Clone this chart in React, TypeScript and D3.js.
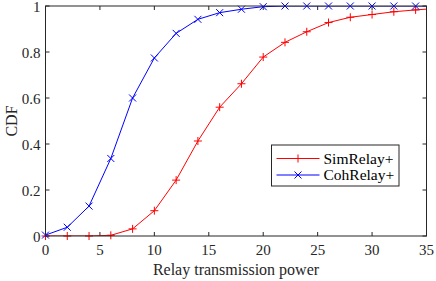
import React from "react";
import * as d3 from "d3";

const powers = [0, 2, 4, 6, 8, 10, 12, 14, 16, 18, 20, 22, 24, 26, 28, 30, 32, 34, 36];
const simRelay = [0, 0, 0, 0.003, 0.031, 0.11, 0.243, 0.413, 0.56, 0.662, 0.778, 0.842, 0.888, 0.928, 0.951, 0.963, 0.975, 0.983, 0.99];
const cohRelay = [0.004, 0.038, 0.13, 0.337, 0.6, 0.774, 0.881, 0.942, 0.971, 0.986, 0.997, 1, 1, 1, 1, 1, 1, 1, 1];
const xTicks = [0, 5, 10, 15, 20, 25, 30, 35];
const yTicks = [0, 0.2, 0.4, 0.6, 0.8, 1];

const W = 436;
const H = 281;
const m = { left: 45.5, right: 9.5, top: 6, bottom: 45 };
const font = "Liberation Serif, Times New Roman, DejaVu Serif, serif";
const axisColor = "#262626";

const App = () => {
  const x = d3.scaleLinear().domain([0, 35]).range([m.left, W - m.right]);
  const y = d3.scaleLinear().domain([0, 1]).range([H - m.bottom, m.top]);
  const line = d3
    .line<number>()
    .x((d, i) => x(powers[i]))
    .y((d) => y(d));

  const plus = (cx: number, cy: number, k: string) => (
    <path key={k} d={`M${cx - 4},${cy}H${cx + 4}M${cx},${cy - 4}V${cy + 4}`} stroke="#ff0000" strokeWidth={1} />
  );
  const cross = (cx: number, cy: number, k: string) => (
    <path key={k} d={`M${cx - 3.5},${cy - 3.5}L${cx + 3.5},${cy + 3.5}M${cx - 3.5},${cy + 3.5}L${cx + 3.5},${cy - 3.5}`} stroke="#0000ff" strokeWidth={1} />
  );

  const x0 = x(0), x1 = x(35), y0 = y(0), y1 = y(1);
  const visible = (i: number) => powers[i] <= 35;

  const lgX = 271.5, lgY = 145, lgW = 127.5, lgH = 41;
  const ts = { fontFamily: font };

  return (
    <svg width={W} height={H} style={{ position: "absolute", left: 0, top: 0 }}>
      <defs>
        <clipPath id="plotclip">
          <rect x={x0} y={y1} width={x1 - x0} height={y0 - y1} />
        </clipPath>
      </defs>
      <rect width={W} height={H} fill="white" />
      {/* ticks */}
      {xTicks.map((t) => (
        <g key={"x" + t}>
          <line x1={x(t)} x2={x(t)} y1={y0} y2={y0 - 4} stroke={axisColor} />
          <line x1={x(t)} x2={x(t)} y1={y1} y2={y1 + 4} stroke={axisColor} />
          <text x={x(t)} y={y0 + 19} textAnchor="middle" fontSize={15} fill={axisColor} style={ts}>
            {t}
          </text>
        </g>
      ))}
      {yTicks.map((t) => (
        <g key={"y" + t}>
          <line x1={x0} x2={x0 + 4} y1={y(t)} y2={y(t)} stroke={axisColor} />
          <line x1={x1} x2={x1 - 4} y1={y(t)} y2={y(t)} stroke={axisColor} />
          <text x={x0 - 5} y={y(t) + 5.5} textAnchor="end" fontSize={15} fill={axisColor} style={ts}>
            {t}
          </text>
        </g>
      ))}
      <g clipPath="url(#plotclip)">
        <path d={line(simRelay) || ""} fill="none" stroke="#ff0000" strokeWidth={1} />
        <path d={line(cohRelay) || ""} fill="none" stroke="#0000ff" strokeWidth={1} />
      </g>
      {simRelay.map((v, i) => (visible(i) ? plus(x(powers[i]), y(v), "s" + i) : null))}
      {cohRelay.map((v, i) => (visible(i) ? cross(x(powers[i]), y(v), "c" + i) : null))}
      <rect x={x0} y={y1} width={x1 - x0} height={y0 - y1} fill="none" stroke={axisColor} strokeWidth={1} />
      <text x={(x0 + x1) / 2} y={H - 6} textAnchor="middle" fontSize={16} fill={axisColor} style={ts}>
        Relay transmission power
      </text>
      <text transform={`translate(17,${(y0 + y1) / 2}) rotate(-90)`} textAnchor="middle" fontSize={16} fill={axisColor} style={ts}>
        CDF
      </text>
      {/* legend */}
      <rect x={lgX} y={lgY} width={lgW} height={lgH} fill="white" stroke={axisColor} strokeWidth={1} />
      <line x1={lgX + 5} x2={lgX + 48} y1={lgY + 13.5} y2={lgY + 13.5} stroke="#ff0000" />
      {plus(lgX + 26.5, lgY + 13.5, "lp")}
      <text x={lgX + 52} y={lgY + 18.5} fontSize={15.5} fill="#000" style={ts}>
        SimRelay+
      </text>
      <line x1={lgX + 5} x2={lgX + 48} y1={lgY + 30} y2={lgY + 30} stroke="#0000ff" />
      {cross(lgX + 26.5, lgY + 30, "lc")}
      <text x={lgX + 52} y={lgY + 35} fontSize={15.5} fill="#000" style={ts}>
        CohRelay+
      </text>
    </svg>
  );
};

export default App;
